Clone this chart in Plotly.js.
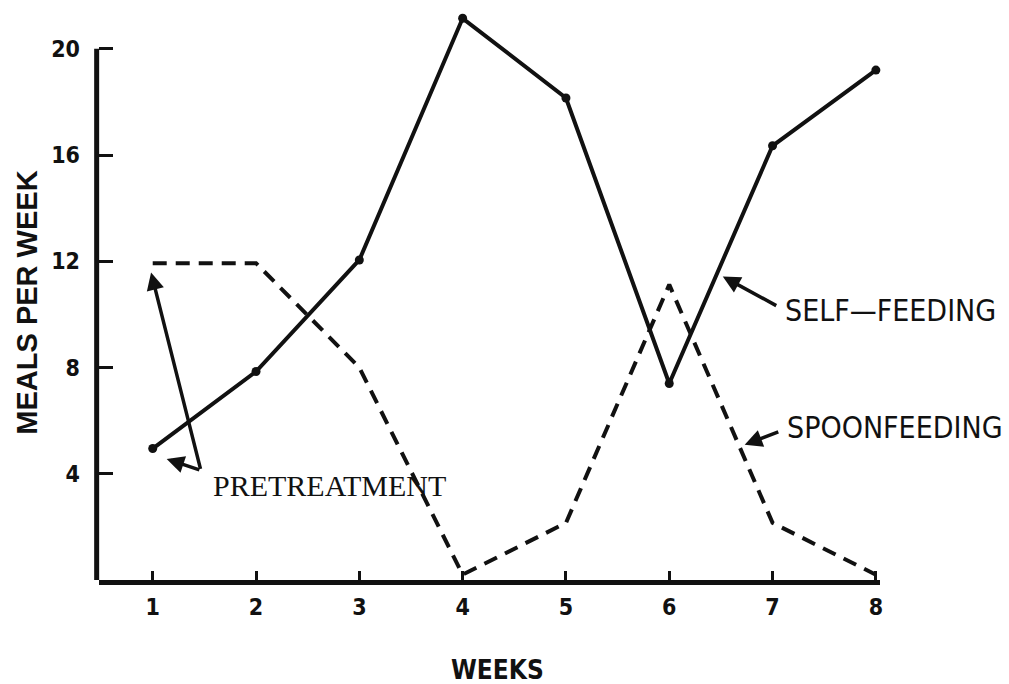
<!DOCTYPE html>
<html>
<head>
<meta charset="utf-8">
<script src="https://cdn.plot.ly/plotly-3.0.1.min.js"></script>
<style>html,body{margin:0;padding:0;background:#fff;}#chart{width:1009px;height:684px;}</style>
</head>
<body>
<div id="chart"></div>
<script>
const weeks = [1, 2, 3, 4, 5, 6, 7, 8];
const selfFeeding = [4.95, 7.85, 12.05, 21.15, 18.15, 7.4, 16.35, 19.2];
const spoonFeeding = [11.93, 11.93, 8.0, 0.2, 2.15, 11.12, 2.15, 0.2];
const xTickLabels = ['1', '2', '3', '4', '5', '6', '7', '8'];
const yTickValues = [4, 8, 12, 16, 20];
const yTickLabels = ['4', '8', '12', '16', '20'];
const yAxisTop = 20;

const ink = '#111';
const sansC = 'DejaVu Sans Condensed, Liberation Sans Narrow, Liberation Sans, sans-serif';

const traces = [
  {
    x: weeks, y: spoonFeeding, type: 'scatter', mode: 'lines',
    name: 'SPOONFEEDING', cliponaxis: false,
    line: {color: ink, width: 4, dash: '14px,9px'}
  },
  {
    x: weeks, y: selfFeeding, type: 'scatter', mode: 'lines+markers',
    name: 'SELF-FEEDING', cliponaxis: false,
    line: {color: ink, width: 4},
    marker: {color: ink, size: 9}
  }
];

const arrow = (x, y, ax, ay) => ({
  x: x, y: y, ax: ax, ay: ay, xref: 'x', yref: 'y', axref: 'x', ayref: 'y',
  text: '', showarrow: true, arrowhead: 2, arrowsize: 1, arrowwidth: 3.5, arrowcolor: ink
});

const layout = {
  width: 1009, height: 684,
  margin: {l: 99, r: 129, t: 9, b: 104},
  paper_bgcolor: '#fff', plot_bgcolor: '#fff',
  showlegend: false,
  font: {family: 'Liberation Sans, Arial, sans-serif', color: ink},
  xaxis: {
    range: [0.48, 8.04], showgrid: false, zeroline: false,
    showline: true, linecolor: ink, linewidth: 5,
    tickmode: 'array', tickvals: weeks, ticktext: xTickLabels,
    ticks: 'inside', ticklen: 9, tickwidth: 3, tickcolor: ink,
    ticklabelstandoff: 2,
    tickfont: {family: sansC, size: 23, color: ink, weight: 'bold'}
  },
  yaxis: {
    range: [0, 21.5], showgrid: false, zeroline: false,
    showline: false,
    tickmode: 'array', tickvals: yTickValues, ticktext: yTickLabels,
    ticks: 'inside', ticklen: 14, tickwidth: 3, tickcolor: ink,
    ticklabelstandoff: 18,
    tickfont: {family: sansC, size: 23, color: ink, weight: 'bold'}
  },
  shapes: [
    {type: 'line', xref: 'paper', yref: 'y', x0: -0.003, x1: -0.003, y0: -0.1, y1: yAxisTop,
     line: {color: ink, width: 5}}
  ],
  annotations: [
    {text: 'WEEKS', xref: 'paper', yref: 'paper', x: 0.51, y: -0.158, xanchor: 'center', yanchor: 'middle',
     showarrow: false, font: {family: sansC, size: 26, color: ink, weight: 'bold'}},
    {text: 'MEALS PER WEEK', xref: 'paper', yref: 'paper', x: -0.092, y: 0.486, textangle: -90,
     xanchor: 'center', yanchor: 'middle', showarrow: false,
     font: {family: 'Liberation Sans, Arial, sans-serif', size: 29, color: ink, weight: 'bold'}},
    {text: 'PRETREATMENT', xref: 'x', yref: 'y', x: 2.709, y: 3.55, xanchor: 'center', yanchor: 'middle',
     showarrow: false, font: {family: 'Liberation Serif, serif', size: 30, color: ink}},
    {text: 'SELF\u2014FEEDING', xref: 'x', yref: 'y', x: 7.10, y: 10.15, xanchor: 'left', yanchor: 'middle',
     showarrow: false, font: {family: sansC, size: 30, color: ink}},
    {text: 'SPOONFEEDING', xref: 'x', yref: 'y', x: 7.12, y: 5.74, xanchor: 'left', yanchor: 'middle',
     showarrow: false, font: {family: sansC, size: 30, color: ink}},
    arrow(0.984, 11.58, 1.466, 4.13),
    arrow(1.135, 4.56, 1.466, 4.13),
    arrow(6.518, 11.43, 7.05, 10.3),
    arrow(6.73, 5.09, 7.07, 5.6)
  ]
};

Plotly.newPlot('chart', traces, layout, {staticPlot: true, displayModeBar: false});
</script>
</body>
</html>
